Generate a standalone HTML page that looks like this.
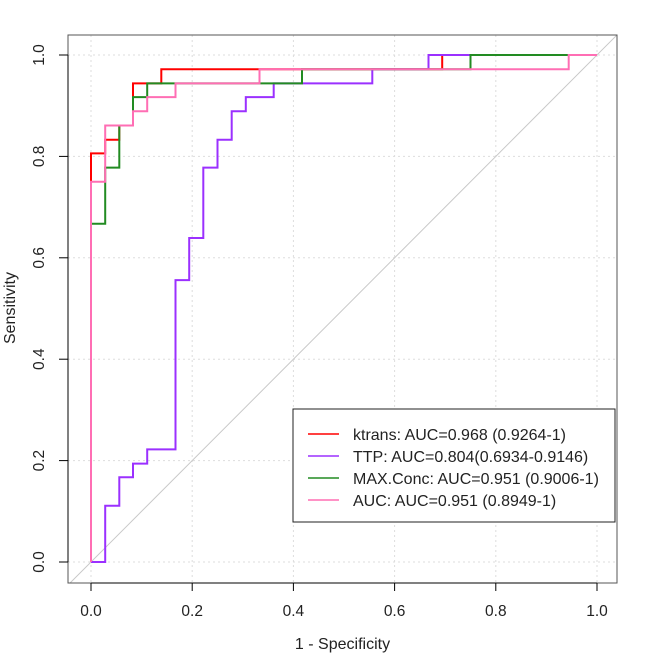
<!DOCTYPE html>
<html><head><meta charset="utf-8"><style>
html,body{margin:0;padding:0;background:#fff;}
svg{display:block;font-family:"Liberation Sans",Arial,sans-serif;}
</style></head><body>
<svg id="chart" width="654" height="658" viewBox="0 0 654 658" xmlns="http://www.w3.org/2000/svg"></svg>
<script>
const xTicks = [0, 0.2, 0.4, 0.6, 0.8, 1.0];
const yTicks = [0, 0.2, 0.4, 0.6, 0.8, 1.0];
const tickLabels = ["0.0", "0.2", "0.4", "0.6", "0.8", "1.0"];
const seriesNames = ["ktrans", "TTP", "MAX.Conc", "AUC"];
const legendLabels = ["ktrans: AUC=0.968 (0.9264-1)", "TTP: AUC=0.804(0.6934-0.9146)", "MAX.Conc: AUC=0.951 (0.9006-1)", "AUC: AUC=0.951 (0.8949-1)"];
const colors = ["#FF0000", "#9B30FF", "#228B22", "#FF6EB4"];
const ktransX = [0, 0, 0.028, 0.028, 0.056, 0.056, 0.083, 0.083, 0.139, 0.139, 0.694, 0.694, 1];
const ktransY = [0, 0.806, 0.806, 0.833, 0.833, 0.861, 0.861, 0.944, 0.944, 0.972, 0.972, 1, 1];
const ttpX = [0, 0.028, 0.028, 0.056, 0.056, 0.083, 0.083, 0.111, 0.111, 0.167, 0.167, 0.194, 0.194, 0.222, 0.222, 0.25, 0.25, 0.278, 0.278, 0.306, 0.306, 0.361, 0.361, 0.556, 0.556, 0.667, 0.667, 1];
const ttpY = [0, 0, 0.111, 0.111, 0.167, 0.167, 0.194, 0.194, 0.222, 0.222, 0.556, 0.556, 0.639, 0.639, 0.778, 0.778, 0.833, 0.833, 0.889, 0.889, 0.917, 0.917, 0.944, 0.944, 0.972, 0.972, 1, 1];
const maxX = [0, 0, 0.028, 0.028, 0.056, 0.056, 0.083, 0.083, 0.111, 0.111, 0.417, 0.417, 0.75, 0.75, 1];
const maxY = [0, 0.667, 0.667, 0.778, 0.778, 0.861, 0.861, 0.917, 0.917, 0.944, 0.944, 0.972, 0.972, 1, 1];
const aucX = [0, 0, 0.028, 0.028, 0.083, 0.083, 0.111, 0.111, 0.167, 0.167, 0.333, 0.333, 0.944, 0.944, 1];
const aucY = [0, 0.75, 0.75, 0.861, 0.861, 0.889, 0.889, 0.917, 0.917, 0.944, 0.944, 0.972, 0.972, 1, 1];

const NS = "http://www.w3.org/2000/svg";
const svg = document.getElementById("chart");
const X0 = 91, X1 = 597, Y0 = 562, Y1 = 55;
const BL = 68, BR = 617, BT = 35, BB = 583;
function sx(v){ return X0 + v * (X1 - X0); }
function sy(v){ return Y0 - v * (Y0 - Y1); }
function mk(tag, attrs){ const e = document.createElementNS(NS, tag); for (const k in attrs) e.setAttribute(k, attrs[k]); svg.appendChild(e); return e; }

const defs = mk("defs", {});
const cp = document.createElementNS(NS, "clipPath"); cp.setAttribute("id", "clip");
const cr = document.createElementNS(NS, "rect");
cr.setAttribute("x", BL); cr.setAttribute("y", BT); cr.setAttribute("width", BR - BL); cr.setAttribute("height", BB - BT);
cp.appendChild(cr); defs.appendChild(cp);

xTicks.forEach((t, i) => {
  const g = mk("line", {x1: sx(t), x2: sx(t), y1: BT, y2: BB, stroke: "#dddddd", "stroke-dasharray": "2,3", "stroke-width": 1});
  
  
});
yTicks.forEach((t, i) => {
  const g = mk("line", {x1: BL, x2: BR, y1: sy(t), y2: sy(t), stroke: "#dddddd", "stroke-dasharray": "2,3", "stroke-width": 1});
  
  
});

const diag = mk("line", {x1: sx(-0.1), y1: sy(-0.1), x2: sx(1.1), y2: sy(1.1), stroke: "#c8c8c8", "stroke-width": 1, "clip-path": "url(#clip)"});



const allX = [ktransX, ttpX, maxX, aucX];
const allY = [ktransY, ttpY, maxY, aucY];
allX.forEach((xs, s) => {
  const pts = xs.map((v, i) => sx(v).toFixed(1) + "," + sy(allY[s][i]).toFixed(1)).join(" ");
  const p = mk("polyline", {points: pts, fill: "none", stroke: colors[s], "stroke-width": 2, "clip-path": "url(#clip)"});
  
  
});

const box = mk("rect", {x: BL, y: BT, width: BR - BL, height: BB - BT, fill: "none", stroke: "#555", "stroke-width": 1});



const xa = mk("line", {x1: sx(0), x2: sx(1), y1: BB, y2: BB, stroke: "#000"});


xTicks.forEach((t, i) => {
  const tk = mk("line", {x1: sx(t), x2: sx(t), y1: BB, y2: BB + 8, stroke: "#000"});
  
  
  const tl = mk("text", {x: sx(t), y: 616, "text-anchor": "middle", "font-size": 15.5, fill: "#222"});
  tl.textContent = tickLabels[i];
  
  
});
const ya = mk("line", {x1: BL, x2: BL, y1: sy(0), y2: sy(1), stroke: "#000"});


yTicks.forEach((t, i) => {
  const tl = mk("text", {x: 44, y: sy(t), "text-anchor": "middle", "font-size": 15.5, fill: "#222", transform: "rotate(-90 44 " + sy(t) + ")"});
  tl.textContent = tickLabels[i];
  
  
  const tk = mk("line", {x1: BL - 9, x2: BL, y1: sy(t), y2: sy(t), stroke: "#000"});
  
  
});

const xt = mk("text", {x: (BL + BR) / 2, y: 649, "text-anchor": "middle", "font-size": 16, fill: "#222"});
xt.textContent = "1 - Specificity";


const yt = mk("text", {x: 15, y: 308, "text-anchor": "middle", "font-size": 16, fill: "#222", transform: "rotate(-90 15 308)"});
yt.textContent = "Sensitivity";



const lb = mk("rect", {x: 293, y: 409, width: 322, height: 113, fill: "#fff", stroke: "#222", "stroke-width": 1});


legendLabels.forEach((lab, i) => {
  const y = 434 + i * 22;
  const ln = mk("line", {x1: 308, x2: 339, y1: y, y2: y, stroke: colors[i], "stroke-width": 1.5});
  
  
  const tx = mk("text", {x: 353, y: y + 6, "font-size": 16, fill: "#222", textLength: i === 0 ? 0 : 0});
  tx.removeAttribute("textLength");
  tx.textContent = lab;
  
  
});
</script>
</body></html>
